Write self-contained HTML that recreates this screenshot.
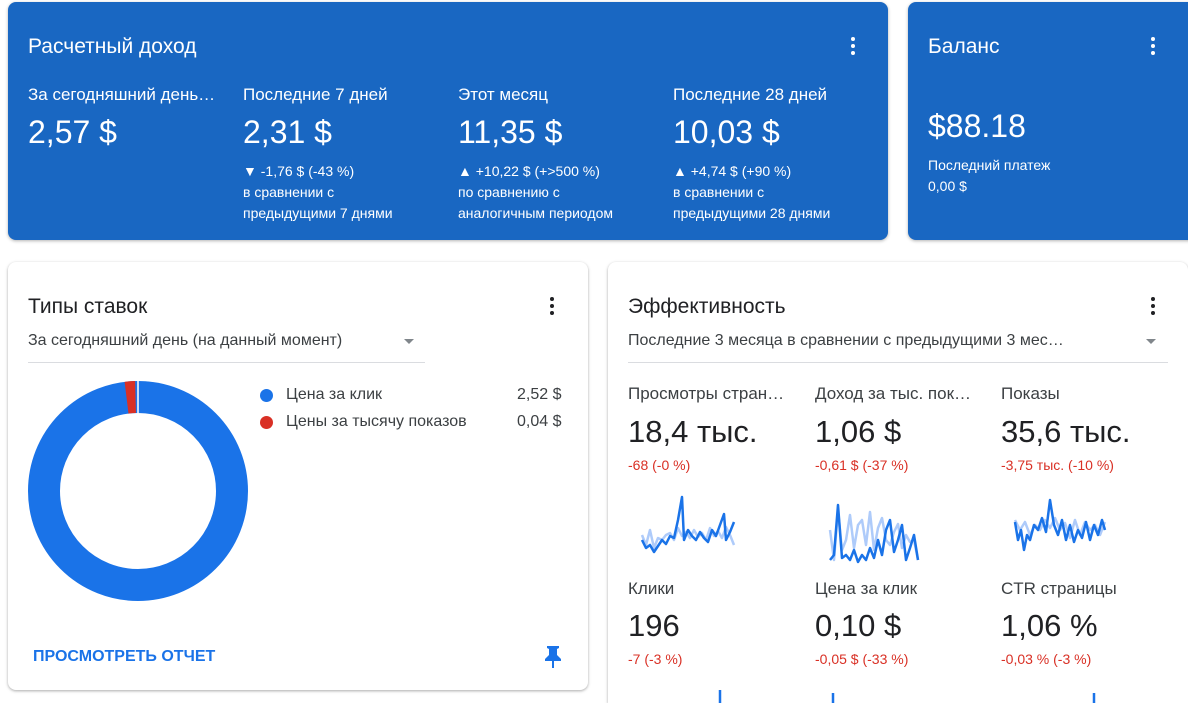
<!DOCTYPE html>
<html><head><meta charset="utf-8"><style>
*{margin:0;padding:0;box-sizing:border-box}
html,body{width:1188px;height:703px;overflow:hidden}
body{background:#fff;font-family:"Liberation Sans",sans-serif;position:relative}
.a{position:absolute;white-space:nowrap}
.blue{background:#1967c2;border-radius:8px;box-shadow:0 1px 3px rgba(0,0,0,.3);color:#fff}
.card{background:#fff;border-radius:8px;box-shadow:0 1px 3px rgba(0,0,0,.25),0 1px 2px rgba(0,0,0,.1)}
.dots{position:absolute;width:4px}
.dots i{display:block;width:4px;height:4px;border-radius:2px;margin-bottom:3px}
.w{color:#fff}
.lbl{font-size:17px;color:#3c4043}
.big{font-size:31px;color:#202124}
.red{font-size:14px;color:#d93025}
</style></head><body>
<div class="a blue" style="left:8px;top:2px;width:880px;height:238px"></div>
<div class="a blue" style="left:908px;top:2px;width:290px;height:238px"></div>
<div class="a w" style="left:28px;top:35px;font-size:21px">Расчетный доход</div>
<div class="dots" style="left:851px;top:37px"><i style="background:#fff"></i><i style="background:#fff"></i><i style="background:#fff"></i></div>
<div class="a w" style="left:28px;top:85px;font-size:17px">За сегодняшний день…</div>
<div class="a w" style="left:28px;top:114px;font-size:32px">2,57 $</div>
<div class="a w" style="left:243px;top:85px;font-size:17px">Последние 7 дней</div>
<div class="a w" style="left:243px;top:114px;font-size:32px">2,31 $</div>
<div class="a w" style="left:243px;top:161px;font-size:14px;line-height:21px">▼ -1,76 $ (-43 %)<br>в сравнении с<br>предыдущими 7 днями</div>
<div class="a w" style="left:458px;top:85px;font-size:17px">Этот месяц</div>
<div class="a w" style="left:458px;top:114px;font-size:32px">11,35 $</div>
<div class="a w" style="left:458px;top:161px;font-size:14px;line-height:21px">▲ +10,22 $ (+&gt;500 %)<br>по сравнению с<br>аналогичным периодом</div>
<div class="a w" style="left:673px;top:85px;font-size:17px">Последние 28 дней</div>
<div class="a w" style="left:673px;top:114px;font-size:32px">10,03 $</div>
<div class="a w" style="left:673px;top:161px;font-size:14px;line-height:21px">▲ +4,74 $ (+90 %)<br>в сравнении с<br>предыдущими 28 днями</div>
<div class="a w" style="left:928px;top:35px;font-size:21px">Баланс</div>
<div class="dots" style="left:1151px;top:37px"><i style="background:#fff"></i><i style="background:#fff"></i><i style="background:#fff"></i></div>
<div class="a w" style="left:928px;top:108px;font-size:32px">$88.18</div>
<div class="a w" style="left:928px;top:155px;font-size:14px;line-height:21px">Последний платеж<br>0,00 $</div>

<div class="a card" style="left:8px;top:262px;width:580px;height:428px"></div>
<div class="a" style="left:28px;top:295px;font-size:21px;color:#202124">Типы ставок</div>
<div class="dots" style="left:550px;top:297px"><i style="background:#202124"></i><i style="background:#202124"></i><i style="background:#202124"></i></div>
<div class="a" style="left:28px;top:332px;font-size:16px;color:#3c4043">За сегодняшний день (на данный момент)</div>
<div class="a" style="left:404px;top:339px;border:5px solid transparent;border-top:5px solid #80868b"></div>
<div class="a" style="left:28px;top:362px;width:397px;height:1px;background:#dadce0"></div>
<svg class="a" style="left:28px;top:381px" width="220" height="220">
<circle cx="110" cy="110" r="94" fill="none" stroke="#1a73e8" stroke-width="32"/>
<circle cx="110" cy="110" r="94" fill="none" stroke="#d93025" stroke-width="32" stroke-dasharray="9 600" transform="rotate(-97 110 110)"/>
<line x1="110" y1="0" x2="110" y2="32" stroke="#fff" stroke-width="1.5"/>
</svg>
<div class="a" style="left:260px;top:389px;width:13px;height:13px;border-radius:7px;background:#1a73e8"></div>
<div class="a" style="left:260px;top:416px;width:13px;height:13px;border-radius:7px;background:#d93025"></div>
<div class="a" style="left:286px;top:386px;font-size:16px;color:#3c4043">Цена за клик</div>
<div class="a" style="left:286px;top:413px;font-size:16px;color:#3c4043">Цены за тысячу показов</div>
<div class="a" style="left:517px;top:386px;font-size:16px;color:#3c4043">2,52 $</div>
<div class="a" style="left:517px;top:413px;font-size:16px;color:#3c4043">0,04 $</div>
<div class="a" style="left:33px;top:648px;font-size:16px;color:#1a73e8;font-weight:bold">ПРОСМОТРЕТЬ ОТЧЕТ</div>
<svg class="a" style="left:543px;top:645px" width="20" height="24"><path d="M4 1h12v2l-2 1v6l4 4v2h-7v7h-2v-7H2v-2l4-4V4L4 3z" fill="#1a73e8"/></svg>

<div class="a card" style="left:608px;top:262px;width:580px;height:441px;border-bottom-right-radius:0;border-bottom-left-radius:0"></div>
<div class="a" style="left:628px;top:295px;font-size:21px;color:#202124">Эффективность</div>
<div class="dots" style="left:1151px;top:297px"><i style="background:#202124"></i><i style="background:#202124"></i><i style="background:#202124"></i></div>
<div class="a" style="left:628px;top:332px;font-size:16px;color:#3c4043">Последние 3 месяца в сравнении с предыдущими 3 мес…</div>
<div class="a" style="left:1146px;top:339px;border:5px solid transparent;border-top:5px solid #80868b"></div>
<div class="a" style="left:628px;top:362px;width:540px;height:1px;background:#dadce0"></div>

<div class="a lbl" style="left:628px;top:384px">Просмотры стран…</div>
<div class="a big" style="left:628px;top:414px">18,4 тыс.</div>
<div class="a red" style="left:628px;top:457px">-68 (-0 %)</div>
<div class="a lbl" style="left:815px;top:384px">Доход за тыс. пок…</div>
<div class="a big" style="left:815px;top:414px">1,06 $</div>
<div class="a red" style="left:815px;top:457px">-0,61 $ (-37 %)</div>
<div class="a lbl" style="left:1001px;top:384px">Показы</div>
<div class="a big" style="left:1001px;top:414px">35,6 тыс.</div>
<div class="a red" style="left:1001px;top:457px">-3,75 тыс. (-10 %)</div>

<div class="a lbl" style="left:628px;top:579px">Клики</div>
<div class="a big" style="left:628px;top:608px">196</div>
<div class="a red" style="left:628px;top:651px">-7 (-3 %)</div>
<div class="a lbl" style="left:815px;top:579px">Цена за клик</div>
<div class="a big" style="left:815px;top:608px">0,10 $</div>
<div class="a red" style="left:815px;top:651px">-0,05 $ (-33 %)</div>
<div class="a lbl" style="left:1001px;top:579px">CTR страницы</div>
<div class="a big" style="left:1001px;top:608px">1,06 %</div>
<div class="a red" style="left:1001px;top:651px">-0,03 % (-3 %)</div>

<svg class="a" style="left:0;top:0" width="1188" height="703">
<g fill="none" stroke-width="2.5" stroke-linejoin="round">
<polyline stroke="#aecbfa" points="642,535 646,545 650,530 654,548 658,538 662,540 666,535 670,533 674,540 678,528 682,536 686,532 690,538 694,530 698,537 702,533 706,540 710,528 714,536 718,531 722,538 726,527 730,535 734,545"/>
<polyline stroke="#1a73e8" points="642,540 646,548 650,545 654,552 658,546 662,540 666,544 670,536 674,538 678,520 682,497 684,540 688,530 692,536 696,540 700,532 704,538 708,542 712,530 716,536 720,525 724,514 726,540 730,532 734,522"/>
<polyline stroke="#aecbfa" points="830,530 834,560 838,510 842,550 846,540 850,515 854,548 858,525 862,520 866,545 870,512 874,550 878,528 882,518 886,540 890,545 894,532 898,524 902,548 906,535 910,542 914,540 918,560"/>
<polyline stroke="#1a73e8" points="830,560 834,555 838,505 842,558 846,555 850,560 854,550 858,562 862,555 866,560 870,548 874,558 878,540 882,555 886,530 890,520 894,552 898,540 902,525 906,560 910,548 914,535 918,560"/>
<polyline stroke="#aecbfa" points="1015,520 1020,530 1025,522 1030,535 1035,525 1040,530 1045,520 1050,528 1055,518 1060,530 1065,523 1070,538 1075,520 1080,535 1085,522 1090,530 1095,525 1100,535 1105,522"/>
<polyline stroke="#1a73e8" points="1015,522 1018,540 1021,530 1024,550 1027,535 1030,540 1034,525 1038,530 1042,518 1046,532 1050,500 1054,525 1058,535 1062,520 1066,540 1070,525 1074,542 1078,530 1082,538 1086,522 1090,540 1094,525 1098,535 1102,520 1105,530"/>
<line x1="720" y1="690" x2="720" y2="703" stroke="#1a73e8"/>
<line x1="833" y1="693" x2="833" y2="703" stroke="#1a73e8"/>
<line x1="1094" y1="693" x2="1094" y2="703" stroke="#1a73e8"/>
</g></svg>
</body></html>
